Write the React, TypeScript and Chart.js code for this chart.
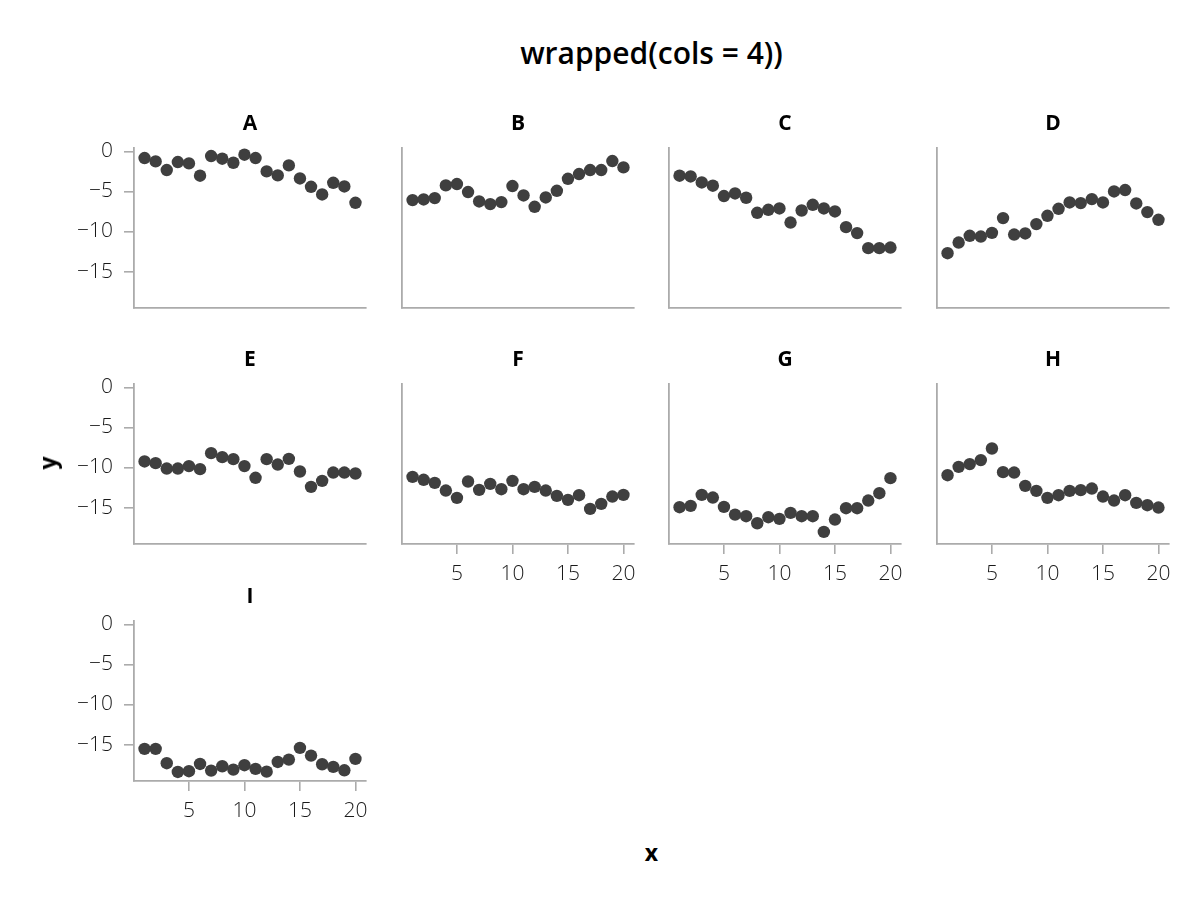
import React, { useEffect, useRef } from 'react';
import { Chart, registerables } from 'chart.js';

Chart.register(...registerables);

// ---------- data ----------
const xValues = [1, 2, 3, 4, 5, 6, 7, 8, 9, 10, 11, 12, 13, 14, 15, 16, 17, 18, 19, 20];
const panelLabels = ['A', 'B', 'C', 'D', 'E', 'F', 'G', 'H', 'I'];

const seriesA = [-0.83, -1.25, -2.33, -1.33, -1.5, -3.04, -0.58, -0.92, -1.42, -0.42, -0.83, -2.5, -3.0, -1.75, -3.38, -4.42, -5.38, -3.92, -4.38, -6.42];
const seriesB = [-6.08, -6.0, -5.83, -4.25, -4.08, -5.08, -6.25, -6.58, -6.33, -4.33, -5.5, -6.92, -5.75, -4.92, -3.42, -2.83, -2.33, -2.33, -1.21, -2.0];
const seriesC = [-3.04, -3.13, -3.88, -4.29, -5.58, -5.25, -5.79, -7.67, -7.29, -7.13, -8.88, -7.38, -6.67, -7.13, -7.5, -9.46, -10.2, -12.08, -12.08, -12.0];
const seriesD = [-12.71, -11.38, -10.54, -10.63, -10.17, -8.33, -10.38, -10.25, -9.08, -8.04, -7.17, -6.38, -6.46, -5.96, -6.38, -5.0, -4.83, -6.5, -7.58, -8.54];
const seriesE = [-9.25, -9.46, -10.13, -10.13, -9.83, -10.21, -8.21, -8.71, -8.96, -9.83, -11.29, -8.96, -9.63, -8.92, -10.5, -12.42, -11.67, -10.63, -10.63, -10.75];
const seriesF = [-11.17, -11.54, -11.92, -12.88, -13.79, -11.75, -12.79, -12.04, -12.71, -11.67, -12.71, -12.42, -12.88, -13.54, -14.04, -13.46, -15.17, -14.54, -13.63, -13.42];
const seriesG = [-14.96, -14.79, -13.42, -13.75, -14.92, -15.88, -16.08, -16.96, -16.21, -16.42, -15.67, -16.08, -16.08, -18.04, -16.5, -15.08, -15.08, -14.13, -13.21, -11.33];
const seriesH = [-10.96, -9.92, -9.58, -9.08, -7.63, -10.58, -10.63, -12.29, -12.92, -13.79, -13.46, -12.92, -12.83, -12.63, -13.63, -14.13, -13.46, -14.42, -14.71, -15.0];
const seriesI = [-15.54, -15.54, -17.33, -18.42, -18.33, -17.42, -18.25, -17.71, -18.13, -17.58, -18.04, -18.38, -17.17, -16.88, -15.42, -16.38, -17.46, -17.79, -18.21, -16.79];

const allSeries = [seriesA, seriesB, seriesC, seriesD, seriesE, seriesF, seriesG, seriesH, seriesI];

const xTicks = [5, 10, 15, 20];
const xTickLabels = ['5', '10', '15', '20'];
const yTicks = [-15, -10, -5, 0];
const yTickLabels = ['−15', '−10', '−5', '0'];

const titleText = 'wrapped(cols = 4))';
const xAxisTitle = 'x';
const yAxisTitle = 'y';

// ---------- layout / style ----------
const FONT = "'Open Sans', 'Noto Sans', 'DejaVu Sans', sans-serif";
const COL_LEFT = [134, 402, 669, 937];
const ROW_TOP = [148, 384, 621];
const PLOT_W = 232;
const PLOT_H = 160;
const AX_W = 90;
const AX_H = 50;
const PAD_T = 50;
const PAD_R = 15;
const AXIS_COLOR = '#ababab';
const POINT_COLOR = '#3f3f3f';

const panelTitlePlugin = {
  id: 'panelTitle',
  afterDraw(chart: any, _args: any, opts: any) {
    const { ctx, chartArea } = chart;
    ctx.save();
    ctx.font = `700 21px ${FONT}`;
    ctx.fillStyle = '#000';
    ctx.textAlign = 'center';
    ctx.textBaseline = 'middle';
    ctx.fillText(opts.text, (chartArea.left + chartArea.right) / 2, chartArea.top - 24);
    ctx.restore();
  },
};

type PanelProps = { idx: number; col: number; row: number; showX: boolean; showY: boolean };

function Panel({ idx, col, row, showX, showY }: PanelProps) {
  const ref = useRef<HTMLCanvasElement | null>(null);
  useEffect(() => {
    const values = allSeries[idx];
    const chart = new Chart(ref.current as HTMLCanvasElement, {
      type: 'scatter',
      data: {
        datasets: [
          {
            data: xValues.map((x, i) => ({ x, y: values[i] })),
            backgroundColor: POINT_COLOR,
            borderWidth: 0,
            pointRadius: 6.2,
            pointHoverRadius: 6.2,
          },
        ],
      },
      options: {
        animation: false,
        responsive: false,
        devicePixelRatio: 1,
        events: [],
        layout: { padding: { left: 0, right: PAD_R, top: PAD_T, bottom: 0 } },
        plugins: {
          legend: { display: false },
          tooltip: { enabled: false },
          title: { display: false },
          panelTitle: { text: panelLabels[idx] },
        } as any,
        scales: {
          x: {
            type: 'linear',
            bounds: 'data',
            min: 0.05,
            max: 20.95,
            afterBuildTicks: (s: any) => {
              s.ticks = xTicks.map((v) => ({ value: v }));
            },
            afterFit: (s: any) => {
              s.height = AX_H;
            },
            grid: {
              drawOnChartArea: false,
              drawTicks: showX,
              tickLength: 10,
              color: AXIS_COLOR,
              lineWidth: 1.6,
            },
            border: { display: true, color: AXIS_COLOR, width: 1.8 },
            ticks: {
              display: showX,
              padding: 7,
              maxRotation: 0,
              autoSkip: false,
              color: '#1a1a1a',
              font: { family: FONT, size: 21, weight: 300 as any },
              callback: (v: any) => {
                const i = xTicks.indexOf(Number(v));
                return i >= 0 ? xTickLabels[i] : '';
              },
            },
          },
          y: {
            type: 'linear',
            bounds: 'data',
            min: -19.55,
            max: 0.42,
            afterBuildTicks: (s: any) => {
              s.ticks = yTicks.map((v) => ({ value: v }));
            },
            afterFit: (s: any) => {
              s.width = AX_W;
            },
            grid: {
              drawOnChartArea: false,
              drawTicks: showY,
              tickLength: 10,
              color: AXIS_COLOR,
              lineWidth: 1.6,
            },
            border: { display: true, color: AXIS_COLOR, width: 1.8 },
            ticks: {
              display: showY,
              padding: 11,
              autoSkip: false,
              color: '#1a1a1a',
              font: { family: FONT, size: 21, weight: 300 as any },
              callback: (v: any) => {
                const i = yTicks.indexOf(Number(v));
                return i >= 0 ? yTickLabels[i] : '';
              },
            },
          },
        },
      },
      plugins: [panelTitlePlugin],
    });
    return () => chart.destroy();
  }, [idx, col, row, showX, showY]);

  const left = COL_LEFT[col] - AX_W;
  const top = ROW_TOP[row] - PAD_T;
  const w = AX_W + PLOT_W + PAD_R;
  const h = PAD_T + PLOT_H + AX_H;
  return (
    <canvas
      ref={ref}
      width={w}
      height={h}
      style={{ position: 'absolute', left, top, width: w, height: h }}
    />
  );
}

export default function App() {
  const panels = panelLabels.map((_, idx) => {
    const col = idx % 4;
    const row = Math.floor(idx / 4);
    // bottom panel of each column shows x ticks
    const showX = idx + 4 >= panelLabels.length;
    const showY = col === 0;
    return <Panel key={idx} idx={idx} col={col} row={row} showX={showX} showY={showY} />;
  });

  const gridCenterX = (COL_LEFT[0] + COL_LEFT[3] + PLOT_W) / 2;

  return (
    <div
      style={{
        position: 'absolute',
        left: 0,
        top: 0,
        width: 1200,
        height: 900,
        background: '#fff',
        overflow: 'hidden',
        fontFamily: FONT,
      }}
    >
      <div
        style={{
          position: 'absolute',
          left: gridCenterX,
          top: 52,
          transform: 'translate(-50%, -50%)',
          fontSize: 30,
          fontWeight: 600,
          whiteSpace: 'nowrap',
          color: '#000',
        }}
      >
        {titleText}
      </div>
      {panels}
      <div
        style={{
          position: 'absolute',
          left: 47,
          top: 463,
          transform: 'translate(-50%, -50%) rotate(-90deg)',
          fontSize: 23,
          fontWeight: 700,
          color: '#000',
        }}
      >
        {yAxisTitle}
      </div>
      <div
        style={{
          position: 'absolute',
          left: gridCenterX,
          top: 852,
          transform: 'translate(-50%, -50%)',
          fontSize: 23,
          fontWeight: 700,
          color: '#000',
        }}
      >
        {xAxisTitle}
      </div>
    </div>
  );
}
